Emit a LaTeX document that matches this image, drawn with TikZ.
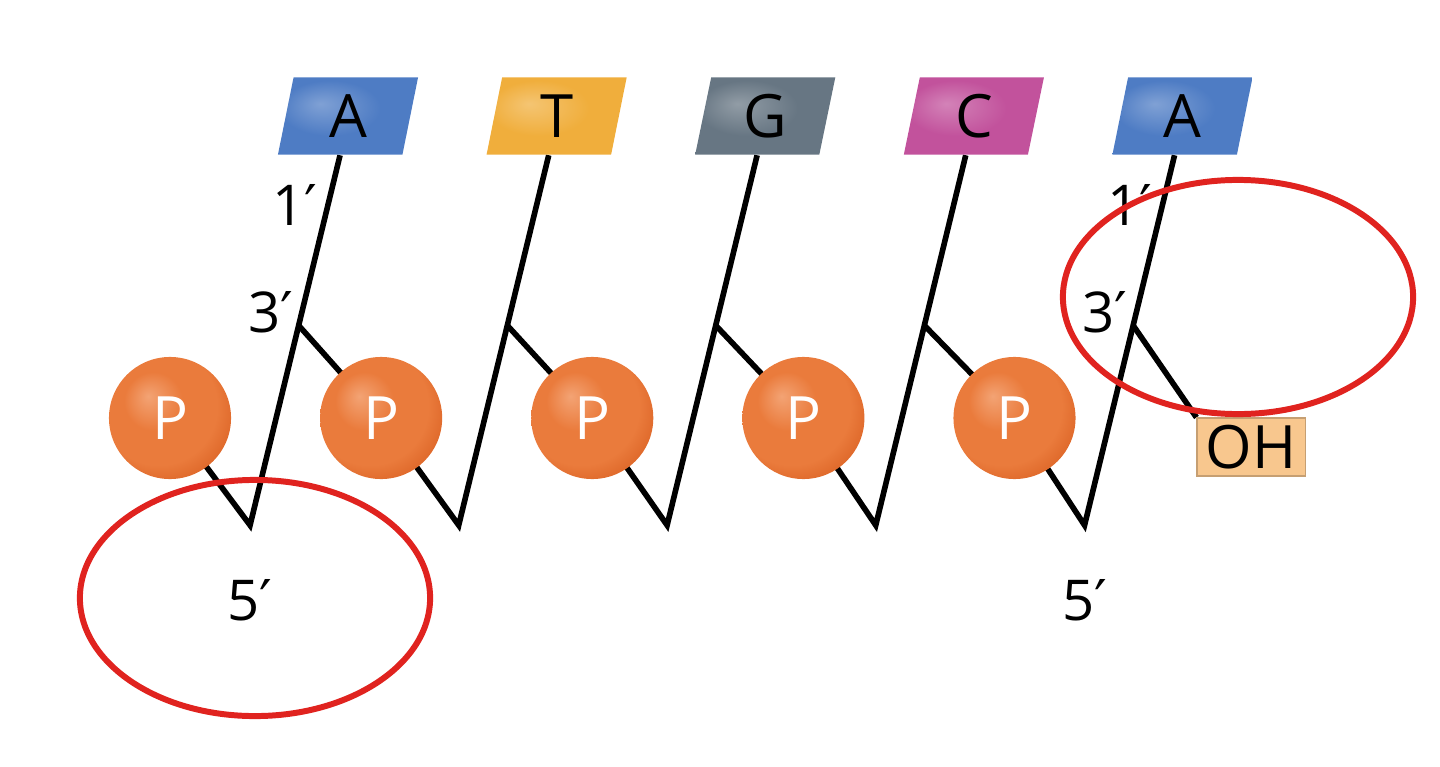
\documentclass[tikz,border=0pt]{standalone}
\usepackage{fontspec}
\setmainfont{Open Sans}
\newfontfamily\primefont{DejaVu Sans}
\usetikzlibrary{positioning, calc, shapes.geometric, backgrounds}

\definecolor{adenine}{HTML}{4E7CC4}
\definecolor{thymine}{HTML}{F0AE3C}
\definecolor{guanine}{HTML}{677683}
\definecolor{cytosine}{HTML}{C2529C}
\definecolor{phoslight}{HTML}{F3A374}
\definecolor{phos}{HTML}{EA7B3C}
\definecolor{phosdark}{HTML}{DC6426}
\definecolor{ohfill}{HTML}{F8C78E}
\definecolor{ringred}{HTML}{E0231F}
\colorlet{basecol}{adenine}

\pgfdeclareradialshading[basecol]{basehl}{\pgfpoint{-10bp}{8bp}}{color(0bp)=(basecol!72!white); color(18bp)=(basecol); color(50bp)=(basecol)}
\pgfdeclareradialshading{phosball}{\pgfpoint{-9bp}{9bp}}{color(0bp)=(phoslight); color(12bp)=(phos); color(24bp)=(phos); color(32bp)=(phosdark); color(50bp)=(phosdark)}

\newcommand{\pr}{{\primefont ′}}

\begin{document}
\begin{tikzpicture}[x=0.01cm, y=-0.01cm, node distance=2.085cm,
    base/.style={trapezium, trapezium left angle=70, trapezium right angle=110,
        trapezium stretches body, minimum width=1.40cm, minimum height=0.77cm,
        inner sep=0pt, /utils/exec={\colorlet{basecol}{#1}}, shading=basehl,
        font=\fontsize{17}{18}\selectfont},
    phos/.style={circle, minimum size=1.22cm, inner sep=0pt, shading=phosball,
        text=white, font=\fontsize{17}{18}\selectfont},
    ohbox/.style={rectangle, fill=ohfill, draw=ohfill!80!black, line width=0.3pt,
        minimum width=1.08cm, minimum height=0.58cm, inner sep=0pt,
        font=\fontsize{17}{18}\selectfont},
    bond/.style={line width=1.6pt},
    lbl/.style={font=\fontsize{16}{18}\selectfont},
    ring/.style={draw=ringred, line width=1.7pt}]

    \useasboundingbox (0,0) rectangle (1440,767);

    \node[base=adenine] (a1) at (348,116) {A};
    \node[base=thymine, right of=a1] (t2) {T};
    \node[base=guanine, right of=t2] (g3) {G};
    \node[base=cytosine, right of=g3] (c4) {C};
    \node[base=adenine, right of=c4] (a5) {A};

    \foreach \b/\i in {a1/1, t2/2, g3/3, c4/4, a5/5} {
        \coordinate (f\i) at ($(\b.bottom left corner)!0.5!(\b.bottom right corner)$);
        \coordinate (v\i) at ($(f\i)+(-90,370)$);
        \coordinate (s\i) at ($(f\i)!0.46!(v\i)$);
    }

    \node[phos] (p1) at (170,418) {P};
    \node[phos, right of=p1, node distance=2.11cm] (p2) {P};
    \node[phos, right of=p2, node distance=2.11cm] (p3) {P};
    \node[phos, right of=p3, node distance=2.11cm] (p4) {P};
    \node[phos, right of=p4, node distance=2.11cm] (p5) {P};

    \node[ohbox] (oh) at (1251,447) {OH};

    \begin{pgfonlayer}{background}
        \draw[bond] (p1.center) -- (v1) -- (f1);
        \draw[bond] (s1) -- (p2.center) -- (v2) -- (f2);
        \draw[bond] (s2) -- (p3.center) -- (v3) -- (f3);
        \draw[bond] (s3) -- (p4.center) -- (v4) -- (f4);
        \draw[bond] (s4) -- (p5.center) -- (v5) -- (f5);
        \draw[bond] (s5) -- (oh.north west);
    \end{pgfonlayer}

    % prime labels on first and last sugar
    \node[lbl] (one1) at ($(f1)+(-45,50)$) {1\pr};
    \node[lbl] (three1) at ($(s1)+(-28,-13)$) {3\pr};
    \node[lbl] (five1) at ($(v1)+(0,75)$) {5\pr};
    \node[lbl] (one5) at ($(f5)+(-45,50)$) {1\pr};
    \node[lbl] (three5) at ($(s5)+(-28,-13)$) {3\pr};
    \node[lbl] (five5) at ($(v5)+(0,75)$) {5\pr};

    % red rings
    \draw[ring] (255,598) ellipse [x radius=1.75cm, y radius=1.18cm];
    \draw[ring] (1238,297) ellipse [x radius=1.75cm, y radius=1.17cm];
\end{tikzpicture}
\end{document}
